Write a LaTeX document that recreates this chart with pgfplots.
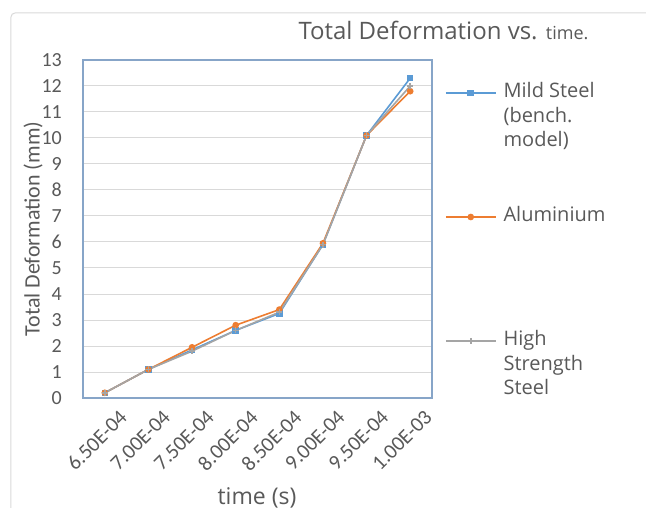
\documentclass[border=0pt]{standalone}
\usepackage{fontspec}
\setmainfont{Open Sans}
\newfontfamily\calibri{Carlito}
\usepackage{pgfplots}
\pgfplotsset{compat=1.18}
\definecolor{msblue}{RGB}{91,155,213}
\definecolor{alorange}{RGB}{237,125,49}
\definecolor{hssgray}{RGB}{165,165,165}
\definecolor{txtgray}{RGB}{89,89,89}
\definecolor{framecol}{RGB}{135,165,200}
\definecolor{gridcol}{RGB}{217,217,217}

\begin{document}
\begin{tikzpicture}
\path[use as bounding box] (-83bp,-110bp) rectangle (563bp,398bp);
\draw[gridcol, line width=1bp, rounded corners=4bp] (-72bp,-130bp) -- (-72bp,385bp) -- (580bp,385bp);
\begin{axis}[
    at={(0bp,0bp)}, anchor=south west,
    scale only axis, width=349bp, height=338bp,
    xmin=-0.5, xmax=7.5, ymin=0, ymax=13,
    xtick={0,...,7},
    xticklabels={6.50E-04,7.00E-04,7.50E-04,8.00E-04,8.50E-04,9.00E-04,9.50E-04,1.00E-03},
    ytick={0,...,13},
    ymajorgrids, grid style={gridcol, line width=1bp},
    axis line style={framecol, line width=1.2bp},
    major tick length=0pt,
    clip=false,
    /pgf/number format/assume math mode=true,
    tick label style={text=txtgray},
    yticklabel style={font=\calibri\fontsize{20bp}{22bp}\selectfont, anchor=east, inner sep=0pt, xshift=-21bp},
    xticklabel style={font=\calibri\fontsize{21bp}{23bp}\selectfont, rotate=45, anchor=north east, inner sep=0pt, xshift=2bp, yshift=-17bp},
    xlabel={time (s)},
    xlabel style={at={(axis description cs:0.4986,-0.296)}, anchor=center, font=\fontsize{23bp}{26bp}\selectfont, text=txtgray},
    ylabel={Total Deformation (mm)},
    ylabel style={at={(axis description cs:-0.143,0.5)}, anchor=center, font=\calibri\fontsize{22bp}{24bp}\selectfont, text=txtgray},
    title={Total Deformation vs. {\fontsize{18bp}{20bp}\selectfont time.}},
    title style={at={(axis description cs:0.6074,1.0444)}, anchor=base west, font=\fontsize{24bp}{28bp}\selectfont, text=txtgray},
    legend cell align=left,
    legend style={at={(axis description cs:1.0372,0.929)}, anchor=north west,
        draw=none, fill=none, inner sep=0pt, outer sep=0pt,
        row sep=50bp, column sep=7bp,
        font=\fontsize{20bp}{24.5bp}\selectfont, text=txtgray,
        cells={anchor=base west},
        nodes={inner sep=0pt, text height=14bp, text depth=60bp}},
    legend image code/.code={\draw[#1, yshift=5bp, mark repeat=2, mark phase=2] plot coordinates {(0bp,0bp) (25bp,0bp) (50bp,0bp)};},
]
\addplot[msblue, line width=1.6bp, mark=square*, mark size=2.5bp, mark options={solid}]
  coordinates {(0,0.2) (1,1.1) (2,1.85) (3,2.6) (4,3.25) (5,5.9) (6,10.1) (7,12.3)};
\addplot[alorange, line width=1.6bp, mark=*, mark size=2.5bp]
  coordinates {(0,0.2) (1,1.1) (2,1.95) (3,2.8) (4,3.4) (5,5.95) (6,10.1) (7,11.8)};
\addplot[hssgray, line width=1.6bp, mark=+, mark size=3bp]
  coordinates {(0,0.2) (1,1.1) (2,1.8) (3,2.6) (4,3.3) (5,5.9) (6,10.1) (7,12.0)};
\legend{{\begin{tabular}[t]{@{}l@{}}Mild Steel\\(bench.\\model)\end{tabular}},
        Aluminium,
        {\begin{tabular}[t]{@{}l@{}}High\\Strength\\Steel\end{tabular}}}
\end{axis}
\end{tikzpicture}
\end{document}
